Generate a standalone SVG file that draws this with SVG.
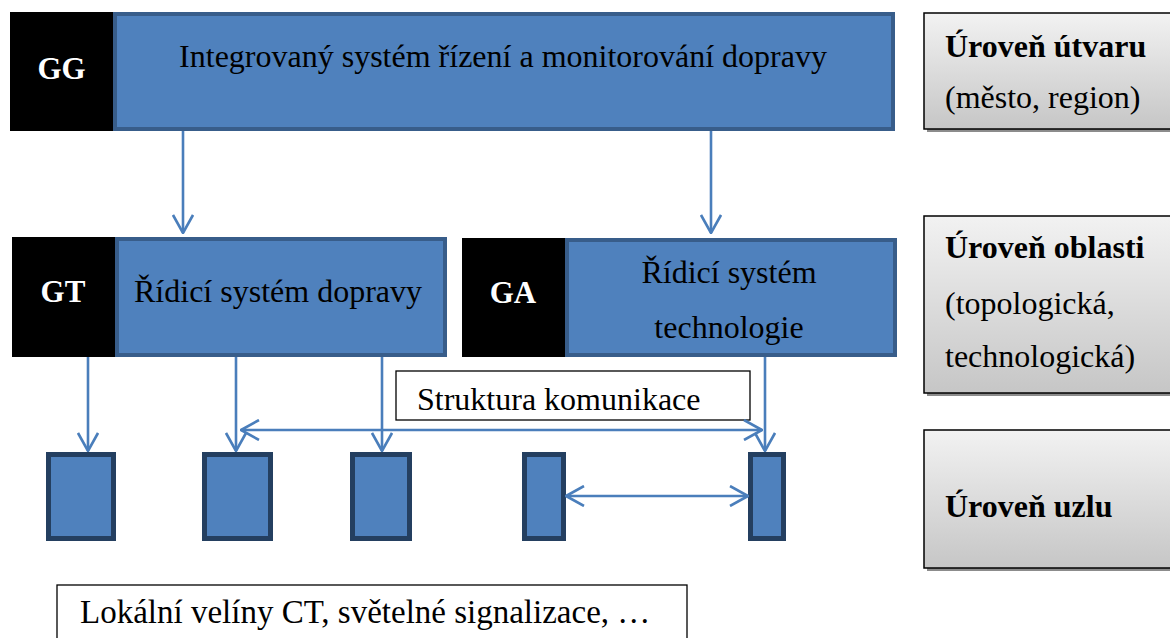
<svg xmlns="http://www.w3.org/2000/svg" width="1170" height="638" viewBox="0 0 1170 638">
  <defs>
    <linearGradient id="greyFill" x1="0" y1="0" x2="0" y2="1">
      <stop offset="0" stop-color="#f2f2f2"/>
      <stop offset="1" stop-color="#c6c6c6"/>
    </linearGradient>
    <marker id="head" viewBox="0 0 20 22" refX="19" refY="11" markerWidth="20" markerHeight="22" markerUnits="userSpaceOnUse" orient="auto-start-reverse">
      <path d="M1,1 L19,11 L1,21" fill="none" stroke="#4a7ebb" stroke-width="2.6"/>
    </marker>
    <style>
      .tag { fill: #000; }
      .tagtxt { font-family: "Liberation Serif", "Times New Roman", serif; font-weight: bold; font-size: 31px; fill: #fff; text-anchor: middle; }
      .sys { fill: #4f81bd; stroke: #385d8a; stroke-width: 4; }
      .unit { fill: #4f81bd; stroke: #243f60; stroke-width: 5; }
      .txt { font-family: "Liberation Serif", "Times New Roman", serif; font-size: 32px; fill: #000; }
      .mid { text-anchor: middle; }
      .bold { font-weight: bold; }
      .note { fill: #fff; stroke: #000; stroke-width: 1.3; }
      .level { fill: url(#greyFill); stroke: #000; stroke-width: 1.5; }
      .shadow { fill: #8c8c8c; }
      .link { fill: none; stroke: #4a7ebb; stroke-width: 2.6; }
    </style>
  </defs>

  <!-- top level: integrated system -->
  <g id="node-gg">
    <rect class="sys" x="115" y="14" width="778" height="115"/>
    <rect class="tag" x="10" y="12" width="103" height="119"/>
    <text class="tagtxt" x="61.5" y="79">GG</text>
    <text class="txt mid" x="503" y="67">Integrovaný systém řízení a monitorování dopravy</text>
  </g>

  <!-- area level: traffic control -->
  <g id="node-gt">
    <rect class="sys" x="117" y="239" width="328" height="116"/>
    <rect class="tag" x="12" y="237" width="103" height="120"/>
    <text class="tagtxt" x="63" y="302">GT</text>
    <text class="txt mid" x="278" y="302">Řídicí systém dopravy</text>
  </g>

  <!-- area level: technology control -->
  <g id="node-ga">
    <rect class="sys" x="567" y="240" width="328" height="115"/>
    <rect class="tag" x="462" y="238" width="103" height="119"/>
    <text class="tagtxt" x="513" y="303">GA</text>
    <text class="txt mid" x="729" y="283">Řídicí systém</text>
    <text class="txt mid" x="729" y="338">technologie</text>
  </g>

  <!-- node level units -->
  <g id="unit-1"><rect class="unit" x="48.5" y="454.5" width="65" height="84"/></g>
  <g id="unit-2"><rect class="unit" x="204.5" y="454.5" width="66" height="84"/></g>
  <g id="unit-3"><rect class="unit" x="352.5" y="454.5" width="57" height="84"/></g>
  <g id="unit-4"><rect class="unit" x="524.5" y="454.5" width="39" height="84"/></g>
  <g id="unit-5"><rect class="unit" x="750.5" y="454.5" width="33" height="84"/></g>

  <!-- captions -->
  <g id="label-comm">
    <rect class="note" x="396" y="371" width="354" height="49"/>
    <text class="txt" x="417" y="410">Struktura komunikace</text>
  </g>
  <g id="label-local">
    <rect class="note" x="57" y="585" width="630" height="60"/>
    <text class="txt" x="80" y="623" style="font-size:33px">Lokální velíny CT, světelné signalizace, …</text>
  </g>

  <!-- level legend on the right -->
  <g id="level-1">
    <rect class="shadow" x="927" y="16" width="250" height="116"/>
    <rect class="level" x="924" y="13" width="250" height="116"/>
    <text class="txt bold" x="945" y="57">Úroveň útvaru</text>
    <text class="txt" x="945" y="108">(město, region)</text>
  </g>
  <g id="level-2">
    <rect class="shadow" x="927" y="219" width="250" height="177"/>
    <rect class="level" x="924" y="216" width="250" height="177"/>
    <text class="txt bold" x="945" y="258">Úroveň oblasti</text>
    <text class="txt" x="945" y="314">(topologická,</text>
    <text class="txt" x="945" y="367">technologická)</text>
  </g>
  <g id="level-3">
    <rect class="shadow" x="927" y="433" width="250" height="138"/>
    <rect class="level" x="924" y="430" width="250" height="138"/>
    <text class="txt bold" x="945" y="517">Úroveň uzlu</text>
  </g>

  <!-- connectors -->
  <g id="connectors">
    <line class="link" x1="183" y1="131" x2="183" y2="233" marker-end="url(#head)"/>
    <line class="link" x1="711" y1="131" x2="711" y2="233" marker-end="url(#head)"/>
    <line class="link" x1="88" y1="357" x2="88" y2="451" marker-end="url(#head)"/>
    <line class="link" x1="236" y1="357" x2="236" y2="451" marker-end="url(#head)"/>
    <line class="link" x1="382" y1="357" x2="382" y2="451" marker-end="url(#head)"/>
    <line class="link" x1="765" y1="357" x2="765" y2="451" marker-end="url(#head)"/>
    <line class="link" x1="241" y1="430" x2="762" y2="430" marker-start="url(#head)" marker-end="url(#head)"/>
    <line class="link" x1="566" y1="496" x2="748" y2="496" marker-start="url(#head)" marker-end="url(#head)"/>
  </g>
</svg>
